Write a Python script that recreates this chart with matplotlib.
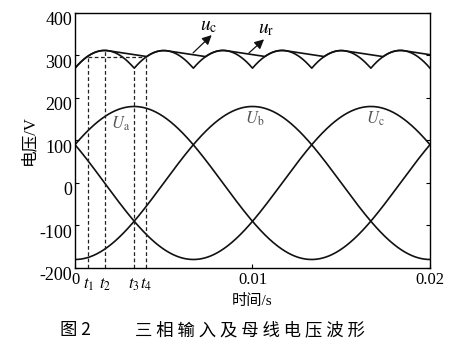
import numpy as np
import matplotlib.pyplot as plt
from matplotlib.transforms import ScaledTranslation

plt.rcParams["font.family"] = ["Liberation Serif", "Noto Sans CJK SC"]
plt.rcParams["mathtext.fontset"] = "stix"

# waveform parameters
freq = 50.0                               # Hz
u_peak = 180.0                            # phase voltage amplitude, V
phase_names = ["a", "b", "c"]
phase_peak_time = [0.00333, 0.01, 0.01667]  # time of each phase maximum, s
phase_label_x = [0.00254, 0.01014, 0.0169]
phase_label_y = [140, 150, 150]
decay_rate = 6400.0                       # bus capacitor discharge slope, V/s

# marked instants t1..t4 and the height their dashed guides reach
t_marks = [0.00075, 0.00167, 0.00333, 0.0040]
t_labels = ["$t_1$", "$t_2$", "$t_3$", "$t_4$"]
t_mark_top = [296, 311, 270, 296]
hold_level = 296

yticks = [-200, -100, 0, 100, 200, 300, 400]
xticks = [0, 0.01, 0.02]
xtick_labels = ["0", "0.01", "0.02"]

t = np.linspace(0, 0.02, 2001)
w = 2 * np.pi * freq
phases = [u_peak * np.cos(w * (t - tp)) for tp in phase_peak_time]
env = np.max(phases, axis=0) - np.min(phases, axis=0)   # rectified line voltage u_r

# bus capacitor voltage u_c: follows u_r while charging, discharges linearly otherwise
dt = t[1] - t[0]
uc = np.empty_like(env)
uc[0] = env[0]
for i in range(1, len(t)):
    uc[i] = max(env[i], uc[i - 1] - decay_rate * dt)

fig = plt.figure(figsize=(4.59, 3.51), dpi=100)
ax = fig.add_axes([0.1634, 0.2365, 0.7734, 0.7265])

for u in phases:
    ax.plot(t, u, color="#111111", lw=1.2)
ax.plot(t, env, color="#111111", lw=1.2)
ax.plot(t, uc, color="#111111", lw=1.2)

for name, lx, ly in zip(phase_names, phase_label_x, phase_label_y):
    ax.text(lx, ly, "$U_{\\mathrm{%s}}$" % name, fontsize=12, color="#555555",
            ha="center", va="center")

# dashed guides
for tm, top in zip(t_marks, t_mark_top):
    ax.plot([tm, tm], [-200, top], color="#222222", lw=0.9, ls=(0, (3, 2)))
ax.plot([t_marks[0], t_marks[3]], [hold_level, hold_level], color="#222222",
        lw=0.9, ls=(0, (3, 2)))

# arrows for u_c and u_r
arrow = dict(arrowstyle="-|>", color="#111111", lw=0.9, mutation_scale=14,
             shrinkA=0, shrinkB=0)
ax.annotate("", xy=(0.0077, 348), xytext=(0.00665, 306), arrowprops=arrow)
ax.text(0.00755, 368, "$u_{\\mathrm{c}}$", fontsize=14, ha="center", va="center")
ax.annotate("", xy=(0.01065, 338), xytext=(0.0098, 306), arrowprops=arrow)
ax.text(0.01075, 362, "$u_{\\mathrm{r}}$", fontsize=14, ha="center", va="center")

ax.set_xlim(0, 0.02)
ax.set_ylim(-200, 400)
ax.set_yticks(yticks)
ax.set_yticklabels([str(v) for v in yticks])
ax.set_xticks(xticks)
ax.set_xticklabels(xtick_labels)
ax.set_xticks(t_marks, t_labels, minor=True)
ax.tick_params(which="major", direction="in", length=3, labelsize=12, pad=3,
               right=True, top=False)
ax.tick_params(which="minor", length=0, labelsize=12, pad=6)
ax.tick_params(axis="y", pad=2, labelsize=13)
for lbl in ax.get_yticklabels():
    lbl.set_transform(lbl.get_transform() + ScaledTranslation(0, -0.06, fig.dpi_scale_trans))
for s in ax.spines.values():
    s.set_linewidth(1.0)

ax.set_ylabel("电压/V", fontsize=12, labelpad=2)
ax.set_xlabel("时间/s", fontsize=11, labelpad=1)

fig.text(0.131, 0.045, "图 2", fontsize=12.5, family=["Noto Sans CJK SC"])
fig.text(0.294, 0.045, "三 相 输 入 及 母 线 电 压 波 形", fontsize=12.5,
         family=["Noto Sans CJK SC"])

fig.savefig("out.png", dpi=100)
